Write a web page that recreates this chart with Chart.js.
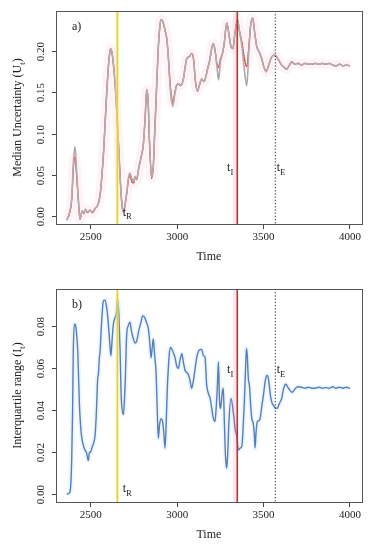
<!DOCTYPE html>
<html><head><meta charset="utf-8">
<script src="https://cdn.jsdelivr.net/npm/chart.js@4/dist/chart.umd.min.js"></script>
<style>
html,body{margin:0;padding:0;background:#fff;}
.p{position:absolute;left:0;width:375px;height:275px;}
</style>
</head><body>
<div class="p" style="top:0"><canvas id="c1" width="375" height="275"></canvas></div>
<div class="p" style="top:275px"><canvas id="c2" width="375" height="275"></canvas></div>
<script>
// ---------- DATA ----------
const xTicks = [2500, 3000, 3500, 4000];
const yTicksA = [0, 0.05, 0.10, 0.15, 0.20];
const yTickLabelsA = ["0.00", "0.05", "0.10", "0.15", "0.20"];
const yTicksB = [0, 0.02, 0.04, 0.06, 0.08];
const yTickLabelsB = ["0.00", "0.02", "0.04", "0.06", "0.08"];

// event times: t_R (yellow), t_I (red), t_E (dotted)
const tR = 2654, tI = 3348, tE = 3568;
const tIBand = [3322, 3350];

// panel a) median uncertainty
const timeA = [2361,2375,2390,2400,2409,2418,2428,2438,2450,2460,2470,2480,2495,2510,2525,2540,2554,2565,2575,2585,2600,2610,2616,2625,2641,2660,2672,2680,2689,2700,2710,2718,2727,2737,2747,2757,2766,2776,2790,2804,2815,2824,2832,2840,2853,2862,2870,2878,2890,2901,2910,2920,2930,2940,2950,2959,2967,2975,2985,2998,3010,3020,3036,3046,3056,3070,3084,3095,3105,3117,3128,3142,3155,3165,3178,3188,3200,3210,3220,3230,3240,3250,3260,3273,3287,3300,3312,3322,3335,3349,3360,3375,3390,3403,3415,3425,3437,3450,3461,3475,3490,3503,3515,3530,3545,3560,3572,3590,3605,3620,3634,3650,3663,3680,3700,3720,3740,3760,3780,3800,3820,3840,3860,3880,3900,3920,3940,3960,3980,4000];
const medianA = [-0.005,0.002,0.02,0.06,0.072,0.05,0.02,-0.004,0.006,0.003,0.008,0.004,0.007,0.004,0.009,0.013,0.025,0.05,0.08,0.12,0.175,0.198,0.203,0.195,0.16,0.09,0.04,0.015,0.005,0.015,0.03,0.044,0.05,0.042,0.04,0.047,0.044,0.056,0.07,0.086,0.12,0.153,0.14,0.09,0.046,0.06,0.1,0.14,0.2,0.232,0.238,0.234,0.225,0.215,0.19,0.161,0.145,0.136,0.148,0.159,0.16,0.158,0.166,0.18,0.191,0.193,0.197,0.19,0.165,0.151,0.158,0.166,0.163,0.168,0.18,0.188,0.203,0.209,0.2,0.185,0.18,0.19,0.195,0.21,0.234,0.22,0.205,0.203,0.222,0.238,0.225,0.21,0.19,0.181,0.205,0.23,0.24,0.22,0.205,0.199,0.19,0.18,0.175,0.183,0.192,0.195,0.194,0.188,0.183,0.18,0.178,0.183,0.187,0.184,0.185,0.183,0.185,0.184,0.184,0.185,0.184,0.185,0.184,0.185,0.183,0.182,0.184,0.182,0.183,0.182];
const greyA = [-0.005,0.002,0.022,0.066,0.084,0.056,0.022,-0.004,0.006,0.004,0.008,0.005,0.007,0.005,0.009,0.013,0.025,0.05,0.08,0.12,0.175,0.198,0.203,0.195,0.16,0.09,0.04,0.015,0.005,0.016,0.032,0.046,0.052,0.046,0.042,0.048,0.045,0.056,0.07,0.086,0.12,0.153,0.14,0.09,0.048,0.06,0.1,0.14,0.2,0.232,0.238,0.234,0.225,0.215,0.19,0.158,0.14,0.133,0.146,0.158,0.16,0.158,0.166,0.18,0.191,0.193,0.197,0.19,0.165,0.151,0.158,0.166,0.163,0.168,0.18,0.188,0.203,0.209,0.2,0.182,0.165,0.186,0.195,0.21,0.234,0.22,0.205,0.203,0.222,0.238,0.225,0.205,0.175,0.158,0.2,0.23,0.24,0.22,0.205,0.199,0.19,0.18,0.175,0.183,0.192,0.195,0.194,0.188,0.183,0.18,0.178,0.183,0.187,0.184,0.185,0.183,0.185,0.184,0.184,0.185,0.184,0.185,0.184,0.185,0.183,0.182,0.184,0.182,0.183,0.182];

// panel b) interquartile range
const timeB = [2361,2375,2382,2390,2395,2399,2405,2410,2415,2425,2434,2441,2448,2458,2467,2475,2480,2486,2492,2500,2506,2515,2525,2531,2535,2540,2544,2550,2554,2563,2573,2583,2590,2598,2605,2612,2617,2624,2631,2640,2648,2656,2663,2670,2675,2679,2689,2695,2699,2708,2716,2727,2735,2747,2756,2766,2778,2791,2800,2810,2822,2833,2842,2849,2856,2862,2870,2878,2885,2891,2898,2907,2915,2922,2930,2937,2943,2949,2956,2963,2975,2988,2998,3007,3017,3027,3036,3046,3055,3065,3075,3084,3094,3104,3113,3123,3133,3142,3152,3161,3171,3181,3191,3200,3210,3219,3225,3232,3239,3245,3252,3260,3267,3273,3280,3287,3293,3300,3312,3325,3338,3345,3354,3364,3374,3382,3389,3396,3401,3406,3412,3418,3425,3432,3440,3447,3451,3457,3464,3472,3480,3490,3499,3510,3518,3524,3530,3540,3547,3560,3570,3580,3590,3605,3615,3623,3630,3640,3653,3665,3672,3685,3701,3720,3740,3760,3780,3800,3820,3840,3860,3880,3900,3920,3940,3960,3980,4000];
const iqrB = [0.000,0.0005,0.002,0.017,0.04,0.068,0.081,0.081,0.079,0.068,0.044,0.033,0.027,0.023,0.021,0.020,0.018,0.016,0.020,0.020,0.022,0.024,0.028,0.036,0.044,0.055,0.057,0.065,0.068,0.082,0.092,0.0925,0.09,0.085,0.078,0.07,0.066,0.074,0.081,0.084,0.086,0.093,0.085,0.068,0.05,0.0425,0.038,0.045,0.052,0.076,0.08,0.082,0.078,0.074,0.072,0.073,0.078,0.082,0.085,0.0845,0.082,0.079,0.072,0.065,0.07,0.074,0.066,0.058,0.04,0.0267,0.033,0.036,0.035,0.03,0.022,0.035,0.05,0.06,0.068,0.070,0.068,0.065,0.061,0.060,0.064,0.067,0.063,0.059,0.058,0.057,0.054,0.0505,0.054,0.06,0.065,0.068,0.069,0.069,0.066,0.0655,0.052,0.048,0.0457,0.041,0.036,0.0346,0.04,0.05,0.063,0.045,0.041,0.048,0.0505,0.035,0.018,0.0124,0.02,0.035,0.0457,0.039,0.03,0.028,0.021,0.022,0.0227,0.032,0.044,0.06,0.0695,0.066,0.055,0.052,0.043,0.036,0.034,0.028,0.022,0.03,0.0346,0.035,0.036,0.042,0.047,0.054,0.0565,0.0565,0.054,0.047,0.044,0.042,0.041,0.041,0.043,0.0457,0.05,0.052,0.0524,0.051,0.0495,0.0486,0.049,0.0505,0.0512,0.051,0.0505,0.051,0.0505,0.0505,0.051,0.0505,0.0508,0.0505,0.0512,0.0505,0.051,0.0505,0.051,0.0505];

// ---------- HELPERS ----------
const FONT = "'Liberation Serif', 'DejaVu Serif', serif";
const pts = (xs, ys) => xs.map((x, i) => ({x: x, y: ys[i]}));

function subText(ctx, parts, x, y, size, align) {
  let w = 0;
  parts.forEach(p => { ctx.font = (p[1] ? size * 0.72 : size) + "px " + FONT; w += ctx.measureText(p[0]).width; });
  let cx = align === 'center' ? x - w / 2 : x;
  parts.forEach(p => {
    ctx.font = (p[1] ? size * 0.72 : size) + "px " + FONT;
    ctx.fillText(p[0], cx, p[1] ? y + size * 0.3 : y);
    cx += ctx.measureText(p[0]).width;
  });
}

function decoPlugin(cfg) {
  return {
    id: 'deco',
    beforeDatasetsDraw(chart) {
      const {ctx, chartArea: a, scales: {x}} = chart;
      ctx.save();
      ctx.fillStyle = 'rgba(255,210,225,0.5)';
      const b0 = x.getPixelForValue(tIBand[0]), b1 = x.getPixelForValue(tIBand[1]);
      ctx.fillRect(b0, a.top, b1 - b0, a.bottom - a.top);
      ctx.restore();
    },
    afterDatasetsDraw(chart) {
      const {ctx, chartArea: a, scales: {x, y}} = chart;
      ctx.save();
      const vline = (t, color, w, dash) => {
        const px = x.getPixelForValue(t);
        ctx.beginPath(); ctx.strokeStyle = color; ctx.lineWidth = w; ctx.setLineDash(dash || []);
        ctx.moveTo(px, a.top); ctx.lineTo(px, a.bottom); ctx.stroke();
      };
      vline(tR, 'rgba(245,235,120,0.55)', 3.5);
      vline(tR, '#e8d41e', 1.4);
      vline(tI, '#c9301e', 1.6);
      vline(tE, '#222', 1, [1.2, 2]);
      ctx.setLineDash([]);
      ctx.strokeStyle = '#555'; ctx.lineWidth = 1;
      ctx.strokeRect(Math.round(a.left) + 0.5, Math.round(a.top) + 0.5, Math.round(a.right - a.left), Math.round(a.bottom - a.top));
      ctx.fillStyle = '#222';
      cfg.yTicks.forEach((v, i) => {
        const py = Math.round(y.getPixelForValue(v)) + 0.5;
        ctx.beginPath(); ctx.strokeStyle = '#444'; ctx.moveTo(a.left - 4, py); ctx.lineTo(a.left, py); ctx.stroke();
        ctx.save(); ctx.translate(44, py); ctx.rotate(-Math.PI / 2);
        ctx.font = "11px " + FONT; ctx.textAlign = 'center'; ctx.textBaseline = 'alphabetic';
        ctx.fillText(cfg.yLabels[i], 0, 0); ctx.restore();
      });
      ctx.save(); ctx.translate(21, (a.top + a.bottom) / 2); ctx.rotate(-Math.PI / 2);
      ctx.textAlign = 'left'; ctx.textBaseline = 'alphabetic';
      subText(ctx, cfg.yTitle, 0, 0, 12, 'center'); ctx.restore();
      ctx.textAlign = 'center'; ctx.textBaseline = 'alphabetic'; ctx.font = "12px " + FONT;
      ctx.fillText('Time', (a.left + a.right) / 2, cfg.xTitleY);
      ctx.textAlign = 'left'; ctx.font = "12px " + FONT;
      ctx.fillText(cfg.panel, 72, a.top + 19);
      cfg.labels.forEach(l => {
        subText(ctx, [['t', false], [l.s, true]], x.getPixelForValue(l.t), y.getPixelForValue(l.v) + 4, 12, 'left');
      });
      ctx.restore();
    }
  };
}

function makeChart(id, datasets, ymin, ymax, padTop, xh, cfg) {
  return new Chart(document.getElementById(id), {
    type: 'line',
    data: {datasets: datasets},
    options: {
      responsive: false, animation: false, devicePixelRatio: 1,
      layout: {padding: {top: padTop, right: 13.3, left: 0, bottom: 0}},
      plugins: {legend: {display: false}, tooltip: {enabled: false}},
      elements: {point: {radius: 0}, line: {cubicInterpolationMode: 'monotone'}},
      scales: {
        x: {
          type: 'linear', min: 2299, max: 4068,
          afterBuildTicks: s => { s.ticks = xTicks.map(v => ({value: v})); },
          ticks: {font: {family: FONT, size: 11}, color: '#222', padding: 2, maxRotation: 0, autoSkip: false, callback: v => String(v)},
          grid: {drawOnChartArea: false, drawTicks: true, tickLength: 5, color: '#444'},
          border: {display: false},
          afterFit: s => { s.height = xh; }
        },
        y: {
          min: ymin, max: ymax,
          ticks: {display: false},
          grid: {display: false},
          border: {display: false},
          afterFit: s => { s.width = 56; }
        }
      }
    },
    plugins: [decoPlugin(cfg)]
  });
}

makeChart('c1', [
  {data: pts(timeA, medianA), borderColor: 'rgba(250,190,208,0.17)', borderWidth: 10},
  {data: pts(timeA, greyA), borderColor: '#a9a9a9', borderWidth: 1.6},
  {data: pts(timeA, medianA), borderColor: '#d63c2c', borderWidth: 1.3},
  {data: pts(timeA, medianA), borderColor: '#4a3a36', borderWidth: 1.2, borderDash: [1, 1.6]}
], -0.0097, 0.2485, 11, 51, {
  yTicks: yTicksA, yLabels: yTickLabelsA,
  yTitle: [['Median Uncertainty (U', false], ['t', true], [')', false]],
  xTitleY: 260, panel: 'a)',
  labels: [{t: 2685, v: 0.005, s: 'R'}, {t: 3289, v: 0.059, s: 'I'}, {t: 3576, v: 0.059, s: 'E'}]
});

makeChart('c2', [
  {data: pts(timeB, iqrB), borderColor: 'rgba(165,220,240,0.22)', borderWidth: 5},
  {data: pts(timeB, iqrB), borderColor: '#4363ad', borderWidth: 1.4,
   segment: {borderColor: c => (c.p0.parsed.x >= 3312 && c.p1.parsed.x <= 3354) ? '#9a4aa0' : undefined}}
], -0.0037, 0.0978, 14, 48, {
  yTicks: yTicksB, yLabels: yTickLabelsB,
  yTitle: [['Interquartile range (I', false], ['t', true], [')', false]],
  xTitleY: 263, panel: 'b)',
  labels: [{t: 2685, v: 0.0029, s: 'R'}, {t: 3289, v: 0.0595, s: 'I'}, {t: 3576, v: 0.0595, s: 'E'}]
});
</script>
</body></html>
